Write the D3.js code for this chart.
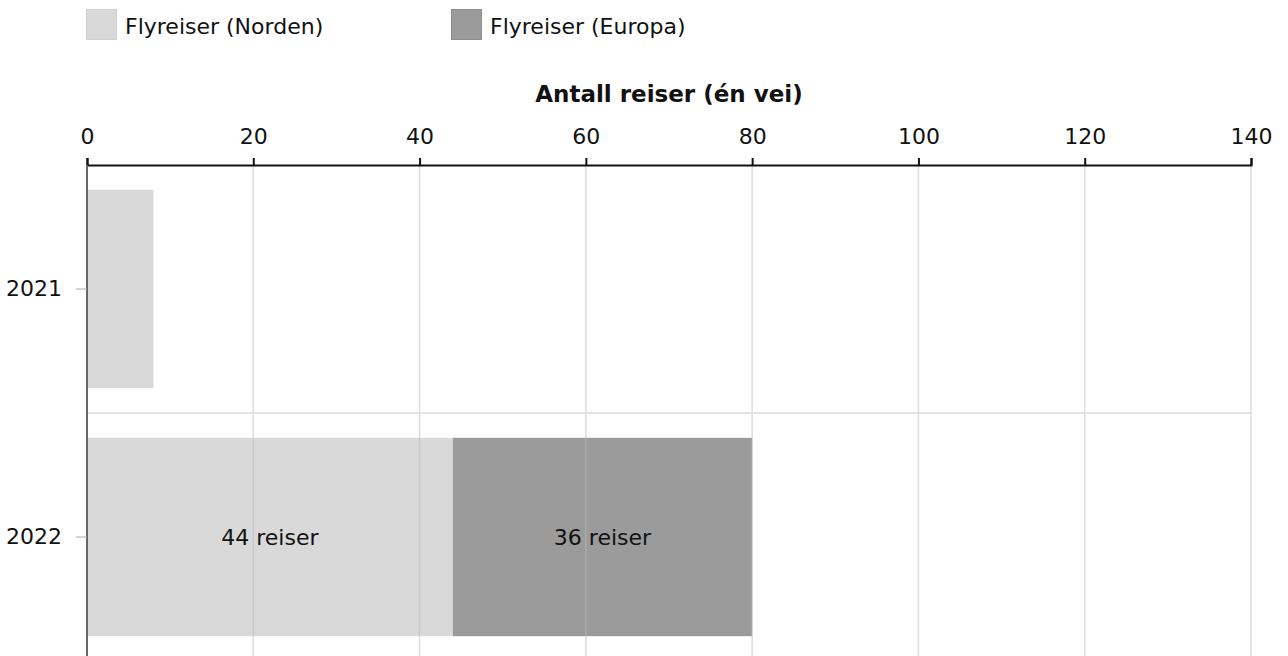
<!DOCTYPE html>
<html>
<head>
<meta charset="utf-8">
<script src="https://cdn.jsdelivr.net/npm/d3@7"></script>
<style>
  body { margin: 0; background: #fff; }
  svg { font-family: "DejaVu Sans", Verdana, sans-serif; display: block; }
</style>
</head>
<body>
<svg id="chart" width="1288" height="656"></svg>
<script>
// data
var years = ["2021", "2022"];
var seriesNames = ["Flyreiser (Norden)", "Flyreiser (Europa)"];
var norden = [8, 44];
var europa = [0, 36];
var xTicks = [0, 20, 40, 60, 80, 100, 120, 140];
var colors = ["#d9d9d9", "#9b9b9b"];
var strokes = ["#d0d0d0", "#8e8e8e"];

var margin = {top: 165, right: 37, bottom: 0, left: 87},
    width  = 1288 - margin.left - margin.right,
    height = 496;

var svg = d3.select("#chart");

var x = d3.scaleLinear()
    .domain([0, 140])
    .range([0, width]);

var y = d3.scaleBand()
    .domain(years)
    .range([0, height])
    .paddingInner(0.2)
    .paddingOuter(0.1);

// band without padding, for the separator line
var yFull = d3.scaleBand().domain(years).range([0, height]);

var rows = years.map(function(yr, i) {
  return {year: yr, Norden: norden[i], Europa: europa[i]};
});
var stack = d3.stack().keys(["Norden", "Europa"])(rows);

var g = svg.append("g")
    .attr("transform", "translate(" + margin.left + "," + margin.top + ")");

// bars
stack.forEach(function(layer, li) {
  g.append("g").selectAll("rect")
    .data(layer)
    .enter().append("rect")
    .attr("x", function(d) { return x(d[0]); })
    .attr("y", function(d) { return y(d.data.year); })
    .attr("width", function(d) { return x(d[1]) - x(d[0]); })
    .attr("height", y.bandwidth())
    .attr("fill", colors[li]);
});

// vertical gridlines, faint, over the bars
g.append("g").selectAll("line")
  .data(xTicks.slice(1))
  .enter().append("line")
  .attr("x1", function(d) { return x(d); })
  .attr("x2", function(d) { return x(d); })
  .attr("y1", 0)
  .attr("y2", height)
  .attr("stroke", "#bbb")
  .attr("stroke-opacity", 0.5)
  .attr("stroke-width", 1.5);

// separator between categories
g.append("g").selectAll("line")
  .data(years.slice(1))
  .enter().append("line")
  .attr("x1", 0)
  .attr("x2", width)
  .attr("y1", function(d) { return yFull(d); })
  .attr("y2", function(d) { return yFull(d); })
  .attr("stroke", "#e3e3e3")
  .attr("stroke-width", 2);

// value labels (skip narrow segments)
stack.forEach(function(layer) {
  g.append("g").selectAll("text")
    .data(layer.filter(function(d) { return d[1] - d[0] >= 20; }))
    .enter().append("text")
    .attr("x", function(d) { return (x(d[0]) + x(d[1])) / 2; })
    .attr("y", function(d) { return y(d.data.year) + y.bandwidth() / 2; })
    .attr("dy", "0.35em")
    .attr("text-anchor", "middle")
    .attr("font-size", 22)
    .attr("fill", "#111")
    .text(function(d) { return (d[1] - d[0]) + " reiser"; });
});

// top x axis
var xAxis = g.append("g")
    .call(d3.axisTop(x).tickValues(xTicks).tickSize(7).tickPadding(14));
xAxis.select(".domain").attr("stroke", "#111").attr("stroke-width", 2);
xAxis.selectAll(".tick line").attr("stroke", "#111").attr("stroke-width", 2);
xAxis.selectAll(".tick text")
  .attr("font-size", 22)
  .attr("font-family", "DejaVu Sans, Verdana, sans-serif")
  .attr("fill", "#111");

// axis title
g.append("text")
  .attr("x", width / 2)
  .attr("y", -63)
  .attr("text-anchor", "middle")
  .attr("font-size", 23)
  .attr("font-weight", "bold")
  .attr("fill", "#111")
  .text("Antall reiser (én vei)");

// left y axis
var yAxis = g.append("g")
    .call(d3.axisLeft(y).tickSize(11).tickPadding(14).tickSizeOuter(0));
yAxis.select(".domain").attr("stroke", "#666").attr("stroke-width", 2)
  .attr("d", "M0,0V" + height);
yAxis.selectAll(".tick line").attr("stroke", "#aaa");
yAxis.selectAll(".tick text")
  .attr("font-size", 22)
  .attr("font-family", "DejaVu Sans, Verdana, sans-serif")
  .attr("fill", "#111");

// legend
var legendX = [86, 451];
seriesNames.forEach(function(name, i) {
  var lg = svg.append("g").attr("transform", "translate(" + legendX[i] + ",9)");
  lg.append("rect")
    .attr("x", 0.5).attr("y", 0.5)
    .attr("width", 30).attr("height", 30)
    .attr("fill", colors[i])
    .attr("stroke", strokes[i]);
  lg.append("text")
    .attr("x", 39)
    .attr("y", 25)
    .attr("font-size", 22)
    .attr("fill", "#111")
    .text(name);
});
</script>
</body>
</html>
